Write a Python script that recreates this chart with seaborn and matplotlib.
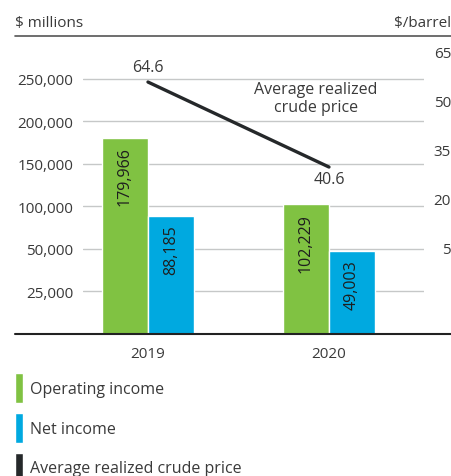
import numpy as np
import pandas as pd
import matplotlib
matplotlib.use('Agg')
import matplotlib.pyplot as plt
from matplotlib.patches import Patch
import seaborn as sns

# ---------------- data ----------------
years = ['2019', '2020']
operating_income = [179966, 102229]
net_income = [88185, 49003]
crude_price = [64.6, 40.6]

left_ticks = [25000, 50000, 100000, 150000, 200000, 250000]
right_ticks = [5, 20, 35, 50, 65]

GREEN = '#80c242'
BLUE = '#00a9e0'
DARK = '#25282a'
TXT = '#3a3a3a'

sns.set_theme(style='white')
plt.rcParams['font.family'] = ['Open Sans', 'DejaVu Sans']
plt.rcParams['font.size'] = 11

df = pd.DataFrame({
    'year': years * 2,
    'metric': ['Operating income'] * 2 + ['Net income'] * 2,
    'value': operating_income + net_income,
})

W, H = 451, 477
fig = plt.figure(figsize=(W / 100, H / 100), dpi=100)
ax = fig.add_axes([83 / W, 1 - 335 / H, (424 - 83) / W, (335 - 37) / H])

sns.barplot(data=df, x='year', y='value', hue='metric',
            palette=[GREEN, BLUE], width=0.508, gap=0, legend=False,
            saturation=1, ax=ax)

# left axis: gridlines are evenly spaced although the labels are not
grid_vals = [0, 25000, 50000, 100000, 150000, 200000, 250000, 300000]
grid_idx = np.arange(len(grid_vals), dtype=float)
ax.set_yscale('function', functions=(lambda v: np.interp(v, grid_vals, grid_idx),
                                     lambda i: np.interp(i, grid_idx, grid_vals)))
ax.set_ylim(0, 300000)
ax.set_xlim(-0.359, 1.525)
ax.set_yticks(left_ticks)
ax.set_yticklabels([f'{v:,}' for v in left_ticks])
ax.yaxis.grid(True, color='#c6c8c8', linewidth=1)
ax.set_axisbelow(True)
ax.tick_params(axis='y', length=0, pad=7, labelsize=11, colors=TXT)
ax.tick_params(axis='x', length=0, pad=9, labelsize=11, colors=TXT)
ax.set_xlabel('')
ax.set_ylabel('')
for s in ax.spines.values():
    s.set_visible(False)

# value labels inside bars
for cont in ax.containers:
    for bar in cont:
        h = bar.get_height()
        ax.annotate(f'{h:,.0f}', (bar.get_x() + bar.get_width() / 2, h),
                    xytext=(0, -6), textcoords='offset points',
                    ha='center', va='top', rotation=90, fontsize=11.5, color='#1e1e1e')

# frame lines (top rule and baseline) running past the plot area
x0 = (15 - 83) / (424 - 83)
x1 = (451 - 83) / (424 - 83)
ax.axhline(300000, xmin=x0, xmax=x1, color='#555555', linewidth=1.2, clip_on=False, zorder=5)
ax.axhline(0, xmin=x0, xmax=x1, color='#222222', linewidth=1.5, clip_on=False, zorder=5)

# right axis ticks ($/barrel)
ax2 = ax.twinx()
ax2.set_ylim(-21.6, 69.6)
ax2.set_yticks(right_ticks)
ax2.set_yticklabels([str(v) for v in right_ticks])
ax2.tick_params(axis='y', length=0, pad=19.5, labelsize=11, colors=TXT)
for lab in ax2.get_yticklabels():
    lab.set_horizontalalignment('right')
for s in ax2.spines.values():
    s.set_visible(False)

# price line
ax3 = ax.twinx()
ax3.set_ylim(-6.55, 77.6)
xpos = np.arange(len(years))
sns.lineplot(x=xpos, y=crude_price, ax=ax3, color=DARK, linewidth=2.4)
ax3.set_xlim(-0.359, 1.525)
ax3.set_yticks([])
for s in ax3.spines.values():
    s.set_visible(False)
ax3.annotate(f'{crude_price[0]}', (xpos[0], crude_price[0]), xytext=(0, 5),
             textcoords='offset points', ha='center', va='bottom', fontsize=11.5, color=TXT)
ax3.annotate(f'{crude_price[1]}', (xpos[1], crude_price[1]), xytext=(0, -3),
             textcoords='offset points', ha='center', va='top', fontsize=11.5, color=TXT)
ax3.text((316 - 83) / 341, (335 - 99) / 298, 'Average realized\ncrude price',
         transform=ax3.transAxes, ha='center', va='center', fontsize=11.5,
         color=TXT, linespacing=1.1)

# header units
fig.text(15 / W, 1 - 23 / H, '$ millions', ha='left', va='center', fontsize=11, color=TXT)
fig.text(451 / W, 1 - 23 / H, '$/barrel', ha='right', va='center', fontsize=11, color=TXT)

# legend
handles = [Patch(facecolor=GREEN), Patch(facecolor=BLUE), Patch(facecolor=DARK)]
labels = ['Operating income', 'Net income', 'Average realized crude price']
fig.legend(handles, labels, loc='upper left', bbox_to_anchor=(15 / W, 1 - 374 / H),
           frameon=False, borderpad=0, borderaxespad=0, handlelength=0.52,
           handleheight=2.5, handletextpad=0.4, labelspacing=0.62,
           fontsize=11.5, labelcolor=TXT)

fig.savefig('out.png', dpi=100)
